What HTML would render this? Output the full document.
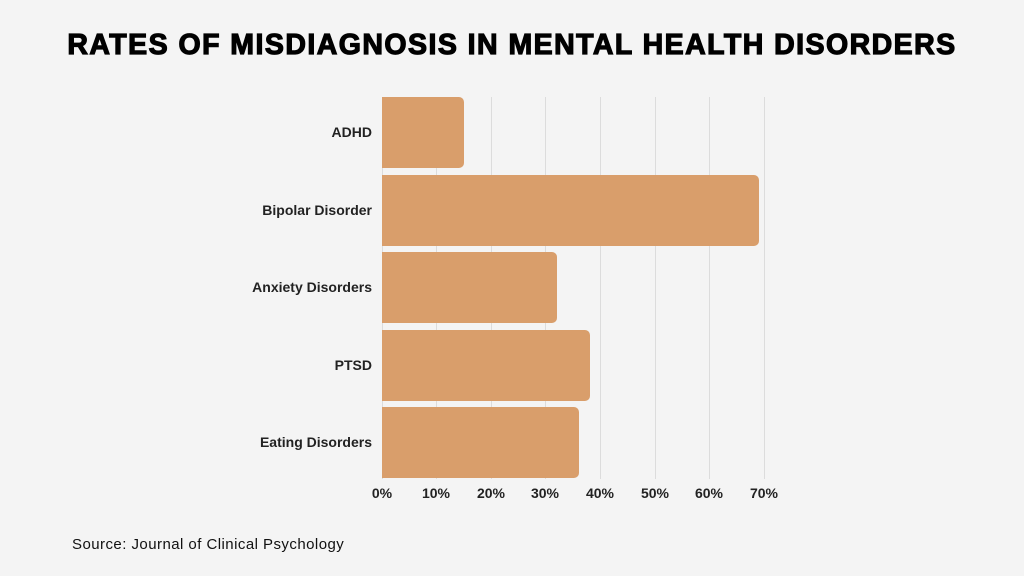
<!DOCTYPE html>
<html><head><style>
body{margin:0;width:1024px;height:576px;background:#f4f4f4;font-family:"Liberation Sans",sans-serif;position:relative;overflow:hidden}
.t{position:absolute;top:29px;left:0;width:1024px;text-align:center;font-weight:900;font-size:28.5px;letter-spacing:1.45px;color:#000;-webkit-text-stroke:1.2px #000}
.g{position:absolute;top:97px;height:382px;width:1px;background:#dcdcdc}
.b{position:absolute;left:382px;height:71px;background:#d99e6b;border-radius:0 5px 5px 0}
.l{position:absolute;right:652px;font-size:14px;font-weight:bold;color:#222;transform:translateY(-50%)}
.x{position:absolute;top:485px;font-size:14px;font-weight:bold;color:#222;transform:translateX(-50%)}
.s{position:absolute;left:72px;top:536px;font-size:15px;letter-spacing:0.45px;color:#111}
</style></head><body>
<div class="t">RATES OF MISDIAGNOSIS IN MENTAL HEALTH DISORDERS</div>
<div class="g" style="left:382px"></div><div class="g" style="left:436px"></div><div class="g" style="left:491px"></div><div class="g" style="left:545px"></div><div class="g" style="left:600px"></div><div class="g" style="left:655px"></div><div class="g" style="left:709px"></div><div class="g" style="left:764px"></div>
<div class="b" style="top:97px;width:82px"></div>
<div class="b" style="top:175px;width:377px"></div>
<div class="b" style="top:252px;width:175px"></div>
<div class="b" style="top:330px;width:208px"></div>
<div class="b" style="top:407px;width:197px"></div>
<div class="l" style="top:132px">ADHD</div>
<div class="l" style="top:210px">Bipolar Disorder</div>
<div class="l" style="top:287px">Anxiety Disorders</div>
<div class="l" style="top:365px">PTSD</div>
<div class="l" style="top:442px">Eating Disorders</div>
<div class="x" style="left:382px">0%</div><div class="x" style="left:436px">10%</div><div class="x" style="left:491px">20%</div><div class="x" style="left:545px">30%</div><div class="x" style="left:600px">40%</div><div class="x" style="left:655px">50%</div><div class="x" style="left:709px">60%</div><div class="x" style="left:764px">70%</div>
<div class="s">Source: Journal of Clinical Psychology</div>
</body></html>
